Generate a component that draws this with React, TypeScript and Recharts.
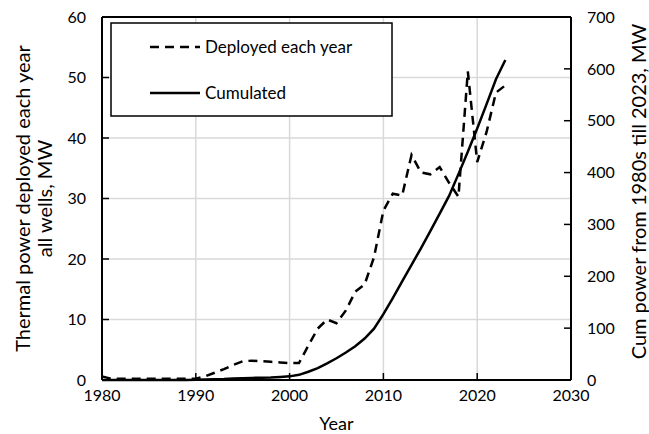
import React from 'react';
import { LineChart, Line, XAxis, YAxis, CartesianGrid, ReferenceLine, Legend } from 'recharts';

// Years with recorded deployments
const years = [
  1980, 1981, 1982, 1983, 1984, 1985, 1986, 1987, 1988, 1989,
  1990, 1991, 1992, 1993, 1994, 1995, 1996, 1997, 1998, 1999,
  2000, 2001, 2002, 2003, 2004, 2005, 2006, 2007, 2008, 2009,
  2010, 2011, 2012, 2013, 2014, 2015, 2016, 2017, 2018, 2019,
  2020, 2021, 2022, 2023,
];

// Thermal power deployed each year, all wells (MW) – left axis
const deployedEachYear = [
  0.6, 0.2, 0.2, 0.2, 0.2, 0.2, 0.2, 0.2, 0.2, 0.2,
  0.2, 0.6, 1.2, 1.8, 2.5, 3.1, 3.2, 3.1, 3.0, 2.9,
  2.8, 2.8, 5.7, 8.5, 10.0, 9.4, 11.5, 14.6, 15.8, 20.3,
  28.0, 30.8, 30.5, 37.2, 34.3, 34.0, 35.2, 32.6, 30.3, 51.0,
  36.0, 41.0, 47.5, 48.7,
];

// Cumulated power since the 1980s (MW) – right axis
const cumulated = [
  0, 0, 0, 0, 0, 0, 0, 0, 0, 0,
  0.5, 1, 1.5, 2, 3, 3.5, 4, 4.5, 5, 6,
  7, 10, 16, 23, 32, 42, 53, 65, 80, 99,
  127, 158, 190, 222, 254, 287, 321, 355, 397, 440,
  485, 532, 580, 617,
];

const xTicks = [1980, 1990, 2000, 2010, 2020, 2030];
const leftTicks = [0, 10, 20, 30, 40, 50, 60];
const rightTicks = [0, 100, 200, 300, 400, 500, 600, 700];

const data = years.map((year, i) => ({
  year,
  deployed: deployedEachYear[i],
  cumulated: cumulated[i],
}));

const FONT = 'Lato, "Open Sans", sans-serif';
const TICK_FONT = 16;
const TITLE_FONT = 20;
const Y_TICK_MARGIN = 16;
const X_TICK_MARGIN = 10;
const TICK_LEN = 7;

function LeftTick({ x, y, payload }: any) {
  const axisX = x + Y_TICK_MARGIN;
  return (
    <g>
      <line x1={axisX} x2={axisX + TICK_LEN} y1={y} y2={y} stroke="#000" strokeWidth={1.5} />
      <text x={x} y={y} dy="0.36em" textAnchor="end" fontSize={TICK_FONT} fontFamily={FONT} fill="#000">
        {payload.value}
      </text>
    </g>
  );
}

function RightTick({ x, y, payload }: any) {
  const axisX = x - Y_TICK_MARGIN;
  return (
    <g>
      <line x1={axisX - TICK_LEN} x2={axisX} y1={y} y2={y} stroke="#000" strokeWidth={1.5} />
      <text x={x} y={y} dy="0.36em" textAnchor="start" fontSize={TICK_FONT} fontFamily={FONT} fill="#000">
        {payload.value}
      </text>
    </g>
  );
}

function BottomTick({ x, y, payload }: any) {
  const axisY = y - X_TICK_MARGIN;
  return (
    <g>
      <line x1={x} x2={x} y1={axisY - TICK_LEN} y2={axisY} stroke="#000" strokeWidth={1.5} />
      <text x={x} y={y} dy="0.71em" textAnchor="middle" fontSize={TICK_FONT} fontFamily={FONT} fill="#000">
        {payload.value}
      </text>
    </g>
  );
}

function BottomTitle({ viewBox }: any) {
  const cx = viewBox.x + viewBox.width / 2;
  const cy = viewBox.y + 43;
  return (
    <text x={cx} y={cy} textAnchor="middle" dominantBaseline="central" fontFamily={FONT} fontSize={18} fill="#000">
      Year
    </text>
  );
}

function LeftAxisTitle({ viewBox }: any) {
  const cy = viewBox.y + viewBox.height / 2;
  const x1 = viewBox.x + 22;
  const x2 = viewBox.x + 44;
  return (
    <g fontFamily={FONT} fontSize={TITLE_FONT} fill="#000">
      <text x={x1} y={cy} textAnchor="middle" dominantBaseline="central" transform={`rotate(-90 ${x1} ${cy})`}>
        Thermal power deployed each year
      </text>
      <text x={x2} y={cy} textAnchor="middle" dominantBaseline="central" transform={`rotate(-90 ${x2} ${cy})`}>
        all wells, MW
      </text>
    </g>
  );
}

function RightAxisTitle({ viewBox }: any) {
  const cy = viewBox.y + viewBox.height / 2 - 7;
  const cx = viewBox.x + 67;
  return (
    <text
      x={cx}
      y={cy}
      textAnchor="middle"
      dominantBaseline="central"
      transform={`rotate(-90 ${cx} ${cy})`}
      fontFamily={FONT}
      fontSize={TITLE_FONT}
      fill="#000"
    >
      Cum power from 1980s till 2023, MW
    </text>
  );
}

function LegendBox() {
  return (
    <svg width={283} height={95} style={{ display: 'block' }}>
      <rect x={1} y={1} width={281} height={93} fill="#fff" stroke="#000" strokeWidth={1.5} />
      <line x1={40} x2={90} y1={25} y2={25} stroke="#000" strokeWidth={2.5} strokeDasharray="9 6" />
      <text x={95} y={25} dy="0.36em" fontFamily={FONT} fontSize={17} fill="#000">
        Deployed each year
      </text>
      <line x1={40} x2={90} y1={71} y2={71} stroke="#000" strokeWidth={2.5} />
      <text x={95} y={71} dy="0.36em" fontFamily={FONT} fontSize={17} fill="#000">
        Cumulated
      </text>
    </svg>
  );
}

export default function App() {
  return (
    <div style={{ position: 'absolute', left: 0, top: 0, width: 649, height: 434, background: '#fff' }}>
      <LineChart width={649} height={434} data={data} margin={{ top: 17, right: 0, bottom: 0, left: 0 }}>
        <CartesianGrid yAxisId="left" stroke="#d9d9d9" strokeWidth={1.5} />
        <XAxis
          dataKey="year"
          type="number"
          domain={[1980, 2030]}
          ticks={xTicks}
          height={54}
          tickSize={0}
          tickMargin={X_TICK_MARGIN}
          tick={<BottomTick />}
          axisLine={{ stroke: '#000', strokeWidth: 2 }}
          tickLine={false}
          label={{ content: (p: any) => <BottomTitle {...p} /> }}
        />
        <YAxis
          yAxisId="left"
          orientation="left"
          domain={[0, 60]}
          ticks={leftTicks}
          width={102}
          tickSize={0}
          tickMargin={Y_TICK_MARGIN}
          tick={<LeftTick />}
          axisLine={{ stroke: '#000', strokeWidth: 2 }}
          tickLine={false}
          label={{ content: (p: any) => <LeftAxisTitle {...p} /> }}
        />
        <YAxis
          yAxisId="right"
          orientation="right"
          domain={[0, 700]}
          ticks={rightTicks}
          width={78}
          tickSize={0}
          tickMargin={Y_TICK_MARGIN}
          tick={<RightTick />}
          axisLine={{ stroke: '#000', strokeWidth: 2 }}
          tickLine={false}
          label={{ content: (p: any) => <RightAxisTitle {...p} /> }}
        />
        <ReferenceLine yAxisId="left" y={60} stroke="#000" strokeWidth={2} />
        <Line
          yAxisId="left"
          type="linear"
          dataKey="deployed"
          stroke="#000"
          strokeWidth={2.5}
          strokeDasharray="9 6"
          dot={false}
          isAnimationActive={false}
        />
        <Line
          yAxisId="right"
          type="linear"
          dataKey="cumulated"
          stroke="#000"
          strokeWidth={2.5}
          dot={false}
          isAnimationActive={false}
        />
        <Legend
          layout="horizontal"
          verticalAlign="middle"
          align="center"
          content={<LegendBox />}
          wrapperStyle={{ left: 110, top: 22, width: 283, height: 95 }}
        />
      </LineChart>
    </div>
  );
}
